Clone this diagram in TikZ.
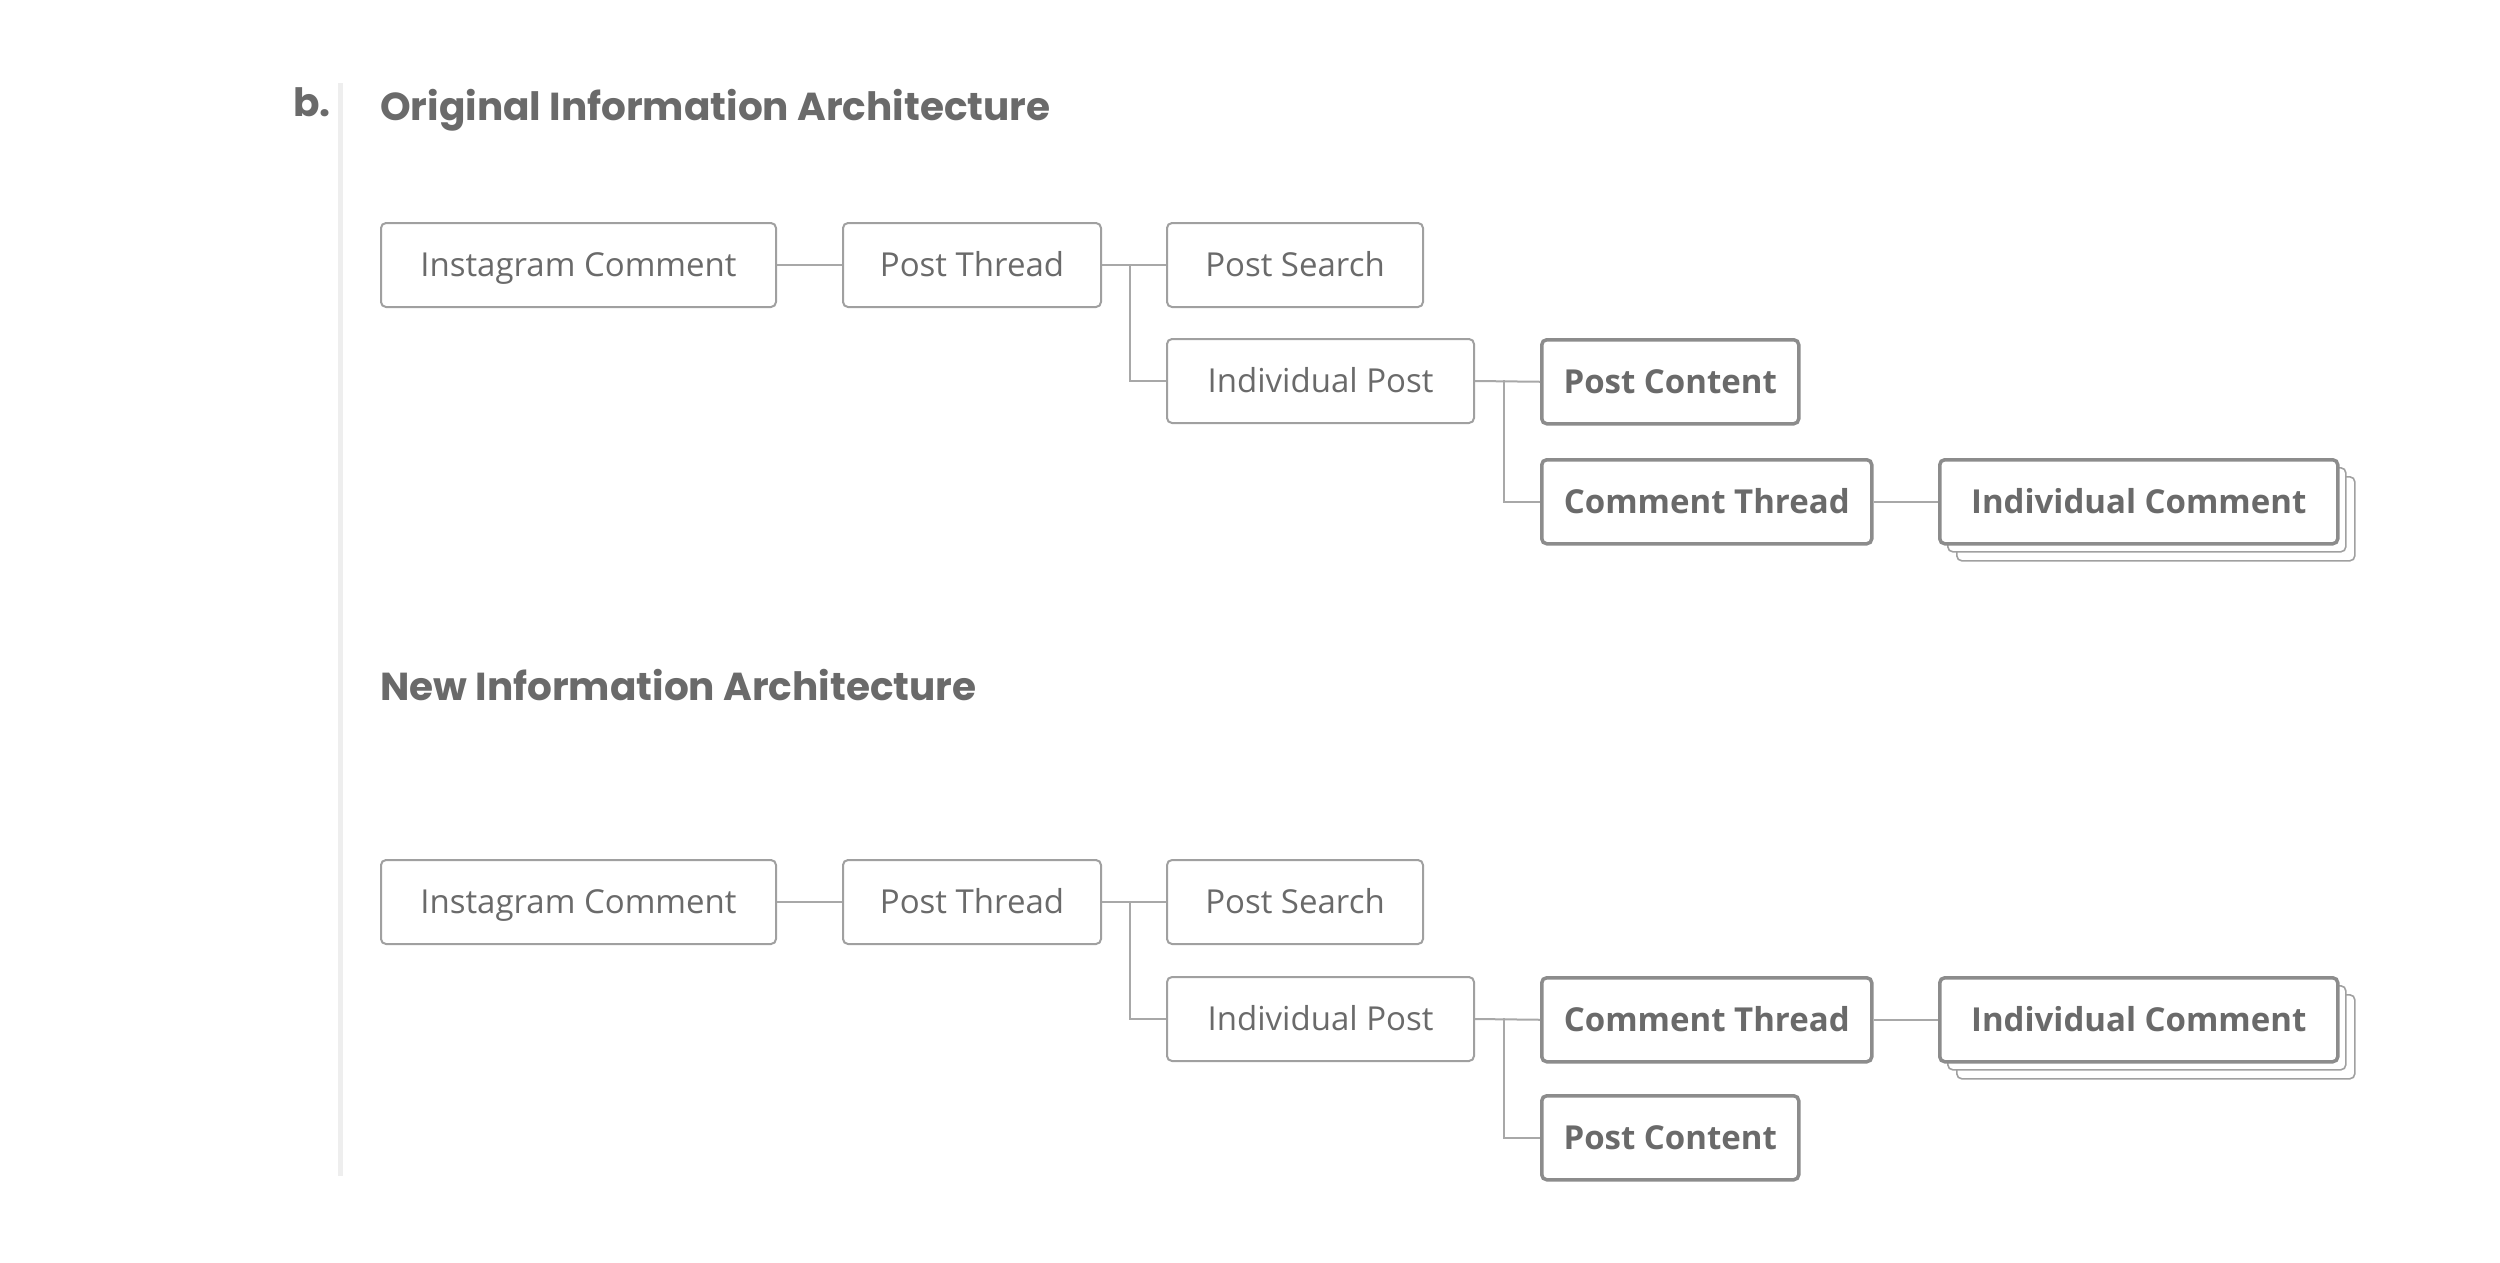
\documentclass[tikz,border=0pt]{standalone}
\usepackage{fontspec}
\setmainfont{Open Sans}
\newfontfamily\headfont{Poppins}
\definecolor{txt}{HTML}{6A6A6A}
\definecolor{boxgray}{HTML}{A0A0A0}
\definecolor{boldgray}{HTML}{8C8C8C}
\definecolor{linkgray}{HTML}{A8A8A8}
\definecolor{barcol}{HTML}{EEEEEE}
\tikzset{
  box/.style={draw=boxgray, line width=2pt, rounded corners=5pt, fill=white, text=txt,
    font=\fontsize{33pt}{38pt}\selectfont, minimum height=84pt, inner sep=0pt,
    text height=23.5pt, text depth=0pt, anchor=north west},
  boldbox/.style={box, draw=boldgray, line width=3.5pt, font=\fontsize{33pt}{38pt}\selectfont\bfseries},
  stackbox/.style={draw=boxgray, line width=1.6pt, rounded corners=5pt, fill=white,
    minimum height=84pt, inner sep=0pt, anchor=north west},
  link/.style={draw=linkgray, line width=2pt},
  heading/.style={text=txt, font=\headfont\fontsize{39pt}{44pt}\selectfont\bfseries, anchor=base west, inner sep=0pt}
}
\begin{document}
\begin{tikzpicture}[x=1pt, y=-1pt]
\useasboundingbox (0,0) rectangle (2500,1262);
\fill[barcol] (338,83) rectangle (343,1176);
\node[heading] (lbl) at (293,116) {b.};
\node[heading] (h1) at (380,120) {Original Information Architecture};
\node[heading] (h2) at (380,700) {New Information Architecture};

% --- original
\node[box, minimum width=395pt] (ig1) at (380,222) {Instagram Comment};
\node[box, minimum width=258pt] (pt1) at (842,222) {Post Thread};
\node[box, minimum width=256pt] (ps1) at (1166,222) {Post Search};
\node[box, minimum width=307pt] (ip1) at (1166,338) {Individual Post};
\node[boldbox, minimum width=257pt] (pc1) at (1540,338) {Post Content};
\node[boldbox, minimum width=330pt] (ct1) at (1540,458) {Comment Thread};
\node[stackbox, minimum width=398pt] (icc1) at (1956,476) {};
\node[stackbox, minimum width=398pt] (icb1) at (1947,467) {};
\node[boldbox, minimum width=398pt] (ic1) at (1938,458) {Individual Comment};
\coordinate (ja1) at (1130,264);
\coordinate (jb1) at (1504,380);
\draw[link] (ig1.east) -- (pt1.west);
\draw[link] (pt1.east) -- (ps1.west);
\draw[link] (ja1) |- (ip1.west);
\draw[link] (ip1.east) -- (pc1.west);
\draw[link] (jb1) |- (ct1.west);
\draw[link] (ct1.east) -- (ic1.west);

% --- new
\node[box, minimum width=395pt] (ig2) at (380,859) {Instagram Comment};
\node[box, minimum width=258pt] (pt2) at (842,859) {Post Thread};
\node[box, minimum width=256pt] (ps2) at (1166,859) {Post Search};
\node[box, minimum width=307pt] (ip2) at (1166,976) {Individual Post};
\node[boldbox, minimum width=330pt] (ct2) at (1540,976) {Comment Thread};
\node[boldbox, minimum width=257pt] (pc2) at (1540,1094) {Post Content};
\node[stackbox, minimum width=398pt] (icc2) at (1956,994) {};
\node[stackbox, minimum width=398pt] (icb2) at (1947,985) {};
\node[boldbox, minimum width=398pt] (ic2) at (1938,976) {Individual Comment};
\coordinate (ja2) at (1130,901);
\coordinate (jb2) at (1504,1018);
\draw[link] (ig2.east) -- (pt2.west);
\draw[link] (pt2.east) -- (ps2.west);
\draw[link] (ja2) |- (ip2.west);
\draw[link] (ip2.east) -- (ct2.west);
\draw[link] (jb2) |- (pc2.west);
\draw[link] (ct2.east) -- (ic2.west);
\end{tikzpicture}
\end{document}
